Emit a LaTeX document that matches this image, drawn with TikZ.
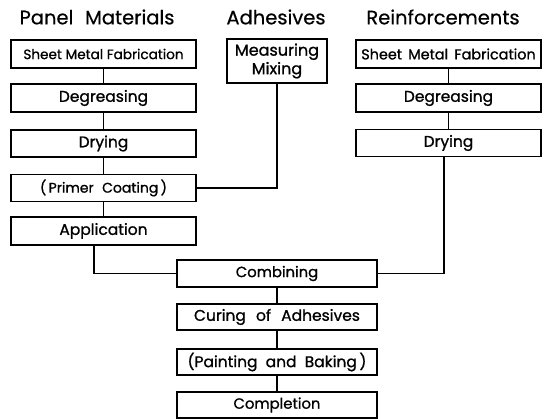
\documentclass[tikz,border=0pt]{standalone}
\usepackage{fontspec}
\setmainfont{Poppins}
\newfontfamily\medf{Poppins}[FakeBold=1.0]
\newfontfamily\ttlf{Poppins}[FakeBold=0.4]
\begin{document}
\begin{tikzpicture}[x=1pt,y=-1pt,
  box/.style={draw=black,line width=1.4pt,inner sep=0pt,minimum width=185pt,minimum height=28pt,font=\medf\fontsize{15.5}{17}\selectfont},
  ttl/.style={font=\ttlf\fontsize{19.5}{21}\selectfont,inner sep=0pt},
  conn/.style={line width=1.4pt}]
\useasboundingbox[fill=white] (0,0) rectangle (544,419);
% titles
\node[ttl] (t1) at (97,17) {Panel\,\, Materials};
\node[ttl] (t2) at (276,17) {Adhesives};
\node[ttl] (t3) at (443,17) {Reinforcements};
% left column
\node[box,font=\medf\fontsize{13.6}{15}\selectfont] (l1) at (103.5,54) {Sheet Metal Fabrication};
\node[box] (l2) at (103.5,98) {Degreasing};
\node[box,minimum height=27pt] (l3) at (103.5,143.5) {Drying};
\node[box,minimum height=27pt,font=\medf\fontsize{14}{16}\selectfont] (l4) at (103.5,188) {(\,Primer\,\, Coating\,)};
\node[box] (l5) at (103.5,231) {Application};
% adhesives
\node[box,minimum width=100pt,minimum height=44pt,align=center,font=\medf\fontsize{16}{18.5}\selectfont] (a1) at (277,61) {Measuring\\Mixing};
% right column
\node[box,font=\medf\fontsize{14.4}{16}\selectfont] (r1) at (448.5,54) {Sheet\, Metal\, Fabrication};
\node[box] (r2) at (448.5,98) {Degreasing};
\node[box,minimum height=27pt] (r3) at (448.5,143) {Drying};
% center column
\node[box,minimum width=200pt,minimum height=27pt,font=\medf\fontsize{14.8}{16}\selectfont] (c1) at (277,273.5) {Combining};
\node[box,minimum width=200pt,minimum height=26pt] (c2) at (277,317) {Curing\hspace{6pt} of\hspace{6pt} Adhesives};
\node[box,minimum width=200pt,minimum height=26pt] (c3) at (277,362) {(Painting\hspace{4pt} and\hspace{4pt} Baking\,)};
\node[box,minimum width=200pt,minimum height=26pt,font=\medf\fontsize{14.8}{16}\selectfont] (c4) at (277,405) {Completion};
% connectors
\draw[conn] (l1) -- (l2);
\draw[conn] (l2) -- (l3);
\draw[conn] (l3) -- (l4);
\draw[conn] (l4) -- (l5);
\draw[conn] (r1) -- (r2);
\draw[conn] (r2) -- (r3);
\draw[conn] (a1.south) |- (l4.east);
\draw[conn] (l5.south -| 94,0) |- (c1.west);
\draw[conn] (r3.south -| 444,0) |- (c1.east);
\draw[conn] (c1) -- (c2);
\draw[conn] (c2) -- (c3);
\draw[conn] (c3) -- (c4);
\end{tikzpicture}
\end{document}
